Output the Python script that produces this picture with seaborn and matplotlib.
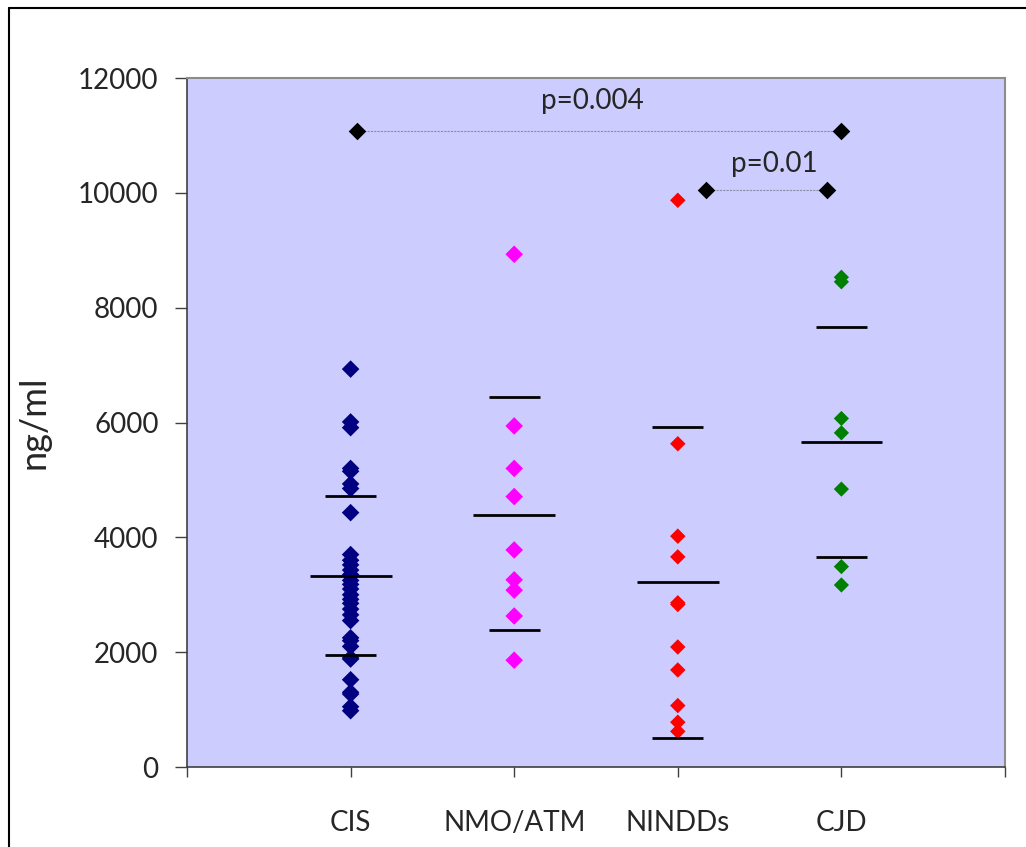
import pandas as pd
import matplotlib.pyplot as plt
import seaborn as sns

# Values (ng/ml)
groups = ['CIS', 'NMO/ATM', 'NINDDs', 'CJD']
cis = [6930, 6010, 5910, 5200, 5150, 4930, 4850, 4430, 3700, 3600, 3520, 3430,
       3350, 3250, 3180, 3100, 3000, 2920, 2850, 2750, 2650, 2550, 2250, 2200,
       2100, 1900, 1880, 1520, 1300, 1270, 1050, 980]
nmo_atm = [8930, 5940, 5200, 4710, 3780, 3260, 3080, 2630, 1860]
nindds = [9870, 5630, 4020, 3660, 2860, 2830, 2090, 1690, 1070, 780, 620]
cjd = [8530, 8450, 6070, 5820, 4840, 3490, 3170]

# mean and mean +/- SD bars
means = [3320, 4390, 3220, 5660]
sd_upper = [4720, 6440, 5920, 7660]
sd_lower = [1950, 2390, 500, 3650]

# comparison markers
comp1_x = [1.04, 4.0]
comp1_y = [11080, 11080]
comp2_x = [3.17, 3.91]
comp2_y = [10050, 10050]
p_labels = ['p=0.004', 'p=0.01']
p_x = [2.48, 3.59]
p_y = [11600, 10500]

colors = {'CIS': '#000080', 'NMO/ATM': '#FF00FF', 'NINDDs': '#FF0000', 'CJD': '#008000'}
sizes = {'CIS': 80, 'NMO/ATM': 80, 'NINDDs': 62, 'CJD': 60}

values = [cis, nmo_atm, nindds, cjd]
rows = []
for i, (g, vals) in enumerate(zip(groups, values)):
    for v in vals:
        rows.append({'group': g, 'pos': i + 1, 'value': v})
df = pd.DataFrame(rows)

sns.set_style('white')
plt.rcParams['font.family'] = ['Lato', 'DejaVu Sans']

fig = plt.figure(figsize=(10.26, 8.47), dpi=100)
ax = fig.add_axes([187 / 1026, 80 / 847, 818 / 1026, 689 / 847])
ax.set_facecolor('#CCCCFF')

sns.scatterplot(data=df, x='pos', y='value', hue='group', palette=colors,
                size='group', sizes=sizes, marker='D', linewidth=0,
                legend=False, ax=ax, zorder=3)

# mean / SD lines
pos = [1, 2, 3, 4]
ax.hlines(means, [p - 0.25 for p in pos], [p + 0.25 for p in pos],
          color='black', lw=2, zorder=4)
ax.hlines(sd_upper, [p - 0.155 for p in pos], [p + 0.155 for p in pos],
          color='black', lw=2, zorder=4)
ax.hlines(sd_lower, [p - 0.155 for p in pos], [p + 0.155 for p in pos],
          color='black', lw=2, zorder=4)

# significance markers
for cx, cy in [(comp1_x, comp1_y), (comp2_x, comp2_y)]:
    ax.plot(cx, cy, color='#8C8CA8', lw=0.8, ls=(0, (2, 1)), zorder=2)
    sns.scatterplot(x=cx, y=cy, color='black', marker='D', s=80,
                    linewidth=0, ax=ax, zorder=5)
for t, x, y in zip(p_labels, p_x, p_y):
    ax.text(x, y, t, ha='center', va='center', fontsize=20)

ax.set_xlim(0, 5)
ax.set_ylim(0, 12000)
ax.set_yticks(range(0, 12001, 2000))
ax.set_yticklabels([str(v) for v in range(0, 12001, 2000)], fontsize=20)
# category labels on major ticks, outer boundary ticks as minor ticks
ax.set_xticks(pos)
ax.set_xticklabels(groups, fontsize=20)
ax.set_xticks([0, 5], minor=True)
ax.tick_params(axis='x', which='both', direction='out', length=7, width=1,
               color='#404040', bottom=True)
ax.tick_params(axis='x', which='major', pad=24)
ax.tick_params(axis='y', direction='out', length=8.5, width=1,
               color='#404040', left=True, pad=12)

ax.set_xlabel('')
ax.set_ylabel('ng/ml', fontsize=26, labelpad=20)

for side in ['top', 'right']:
    ax.spines[side].set_color('#8C8C8C')
    ax.spines[side].set_linewidth(1.5)
for side in ['left', 'bottom']:
    ax.spines[side].set_color('#404040')
    ax.spines[side].set_linewidth(1.2)

# outer frame of the original figure
fig.add_artist(plt.Line2D([9 / 1026, 1], [1 - 8 / 847, 1 - 8 / 847],
                          transform=fig.transFigure, color='black', lw=1.5))
fig.add_artist(plt.Line2D([9 / 1026, 9 / 1026], [0, 1 - 8 / 847],
                          transform=fig.transFigure, color='black', lw=1.5))

fig.savefig('out.png', dpi=100)
